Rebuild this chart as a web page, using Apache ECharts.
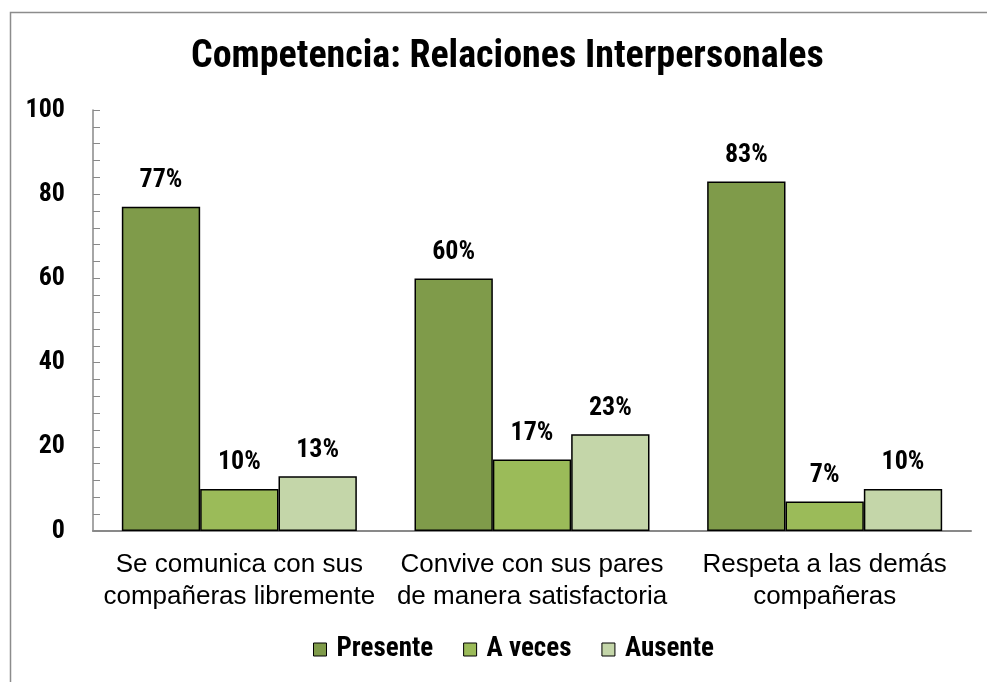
<!DOCTYPE html>
<html>
<head>
<meta charset="utf-8">
<script src="https://cdn.jsdelivr.net/npm/echarts@6/dist/echarts.min.js"></script>
<style>html,body{margin:0;padding:0;background:#fff}#c{width:987px;height:682px}</style>
</head>
<body>
<div id="c"></div>
<script>
const categories = ['Se comunica con sus\ncompañeras libremente', 'Convive con sus pares\nde manera satisfactoria', 'Respeta a las demás\ncompañeras'];
const seriesNames = ['Presente', 'A veces', 'Ausente'];
const presente = [77, 60, 83];
const aveces = [10, 17, 7];
const ausente = [13, 23, 10];
const colors = ['#7F9B4A', '#9BBB59', '#C4D6A9'];
const narrow = '"Liberation Sans Narrow", "Arial Narrow", "Roboto Condensed", sans-serif';

const chart = echarts.init(document.getElementById('c'), null, {renderer: 'canvas'});
const mk = (name, data, i) => ({
  name, type: 'bar', data,
  barGap: '0%', barCategoryGap: '19.7%',
  itemStyle: {color: colors[i], borderColor: '#000', borderWidth: 1.5},
  label: {show: true, position: 'top', distance: 13, formatter: '{c}%',
    fontFamily: narrow, fontWeight: 'bold', fontSize: 26, color: '#000'}
});
chart.setOption({
  animation: false,
  graphic: [{type: 'rect', shape: {x: 10.5, y: 12.5, width: 1000, height: 700},
    style: {fill: 'none', stroke: '#8c8c8c', lineWidth: 1.5}, silent: true}],
  title: {text: 'Competencia: Relaciones Interpersonales', left: 186, top: 33,
    textStyle: {fontFamily: narrow, fontWeight: 'bold', fontSize: 38, color: '#000'}},
  legend: {data: seriesNames, bottom: 14, left: 308, icon: 'rect', itemWidth: 13, itemHeight: 13,
    itemGap: 30,
    itemStyle: {borderColor: '#000', borderWidth: 1},
    textStyle: {fontFamily: narrow, fontWeight: 'bold', fontSize: 27, color: '#000', padding: [0, 0, 0, 5]}},
  grid: {left: 93, right: 16, top: 110, bottom: 151, containLabel: false},
  xAxis: {type: 'category', data: categories,
    axisLine: {lineStyle: {color: '#898989', width: 2}},
    axisTick: {show: false},
    axisLabel: {interval: 0, margin: 18, fontFamily: '"Liberation Sans", Arial, sans-serif', fontSize: 26,
      lineHeight: 32, color: '#000'}},
  yAxis: {type: 'value', min: 0, max: 100, interval: 20,
    axisLine: {show: true, lineStyle: {color: '#898989', width: 1.5}},
    axisTick: {show: true, inside: true, length: 7, lineStyle: {color: '#898989'}},
    minorTick: {show: true, splitNumber: 5, length: 7, lineStyle: {color: '#898989'}},
    splitLine: {show: false},
    axisLabel: {margin: 28, fontFamily: narrow, fontWeight: 'bold', fontSize: 26, color: '#000'}},
  series: [mk(seriesNames[0], presente, 0), mk(seriesNames[1], aveces, 1), mk(seriesNames[2], ausente, 2)]
});
</script>
</body>
</html>
